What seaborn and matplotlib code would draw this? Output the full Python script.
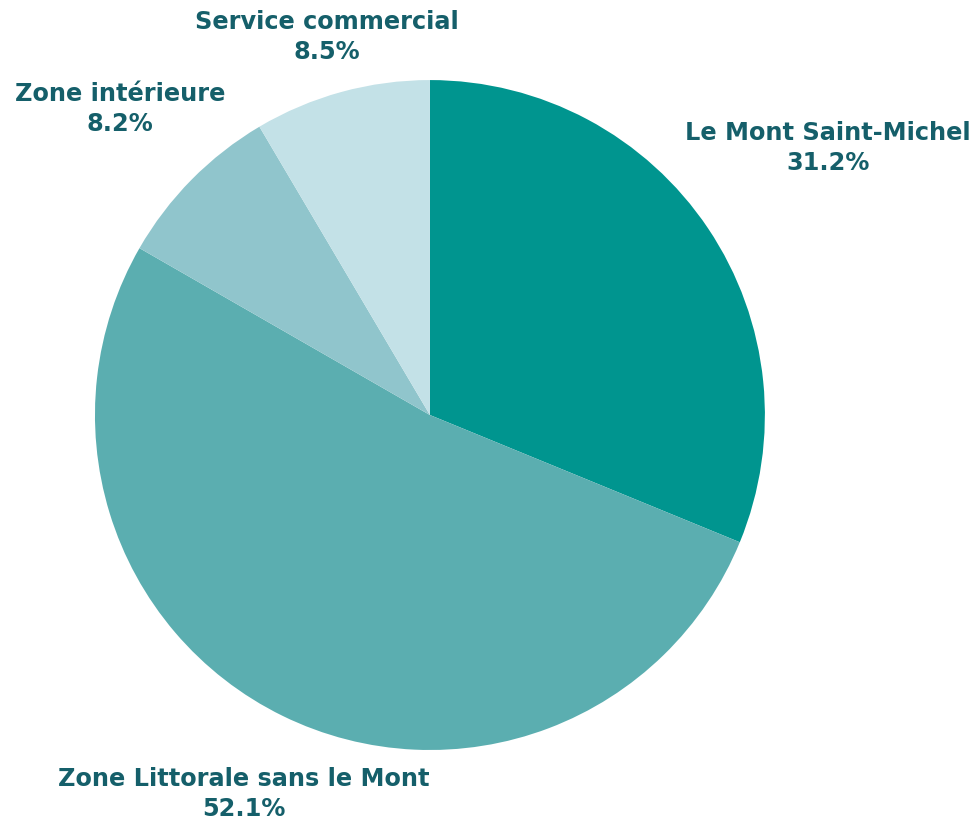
import numpy as np
import matplotlib
matplotlib.use("Agg")
import matplotlib.pyplot as plt
import seaborn as sns


labels = ["Le Mont Saint-Michel", "Zone Littorale sans le Mont",
          "Zone intérieure", "Service commercial"]
shares = [31.2, 52.1, 8.2, 8.5]
colors = ["#00958f", "#5baeb0", "#90c5cc", "#c3e1e7"]

# how far out each label sits (in pie radii)
label_dist = [1.43, 1.26, 1.30, 1.17]

TEXT_COLOR = "#155f6a"

sns.set_theme(style="white")
plt.rcParams['font.family'] = ['DejaVu Sans']

fig = plt.figure(figsize=(9.78, 8.22), dpi=100)
ax = fig.add_axes([0.0971, 0.0876, 0.685, 0.815])

wedges, _ = ax.pie(
    shares,
    colors=colors,
    startangle=90,
    counterclock=False,
    radius=1,
    wedgeprops=dict(linewidth=0),
)

for w, lab, val, d in zip(wedges, labels, shares, label_dist):
    ang = np.deg2rad((w.theta1 + w.theta2) / 2)
    x, y = d * np.cos(ang), d * np.sin(ang)
    ax.text(x, y, f"{lab}\n{val}%", ha="center", va="center",
            fontsize=17.3, fontweight="bold", color=TEXT_COLOR,
            linespacing=1.33, clip_on=False)

ax.set_xlim(-1, 1)
ax.set_ylim(-1, 1)
ax.set_aspect("equal")
ax.axis("off")

fig.savefig("out.png", dpi=100)
